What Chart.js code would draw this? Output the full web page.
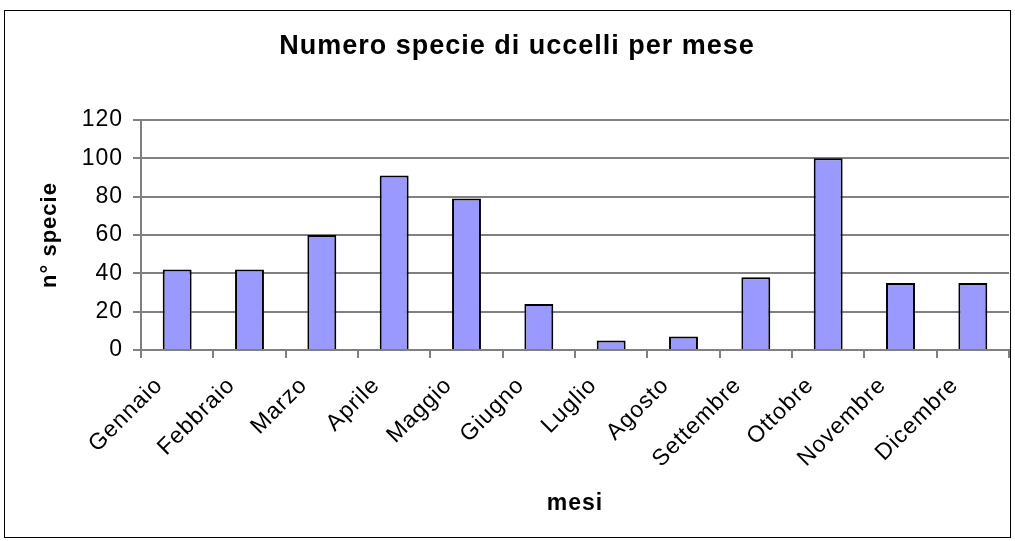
<!DOCTYPE html>
<html>
<head>
<meta charset="utf-8">
<script src="https://cdn.jsdelivr.net/npm/chart.js@4.4.0/dist/chart.umd.min.js"></script>
<style>
  html, body { margin: 0; padding: 0; background: #fff; }
  #wrap { position: relative; width: 1015px; height: 541px; }
  #frame { position: absolute; left: 4px; top: 10px; width: 1007px; height: 528px; border: 1px solid #000; box-sizing: border-box; pointer-events: none; }
</style>
</head>
<body>
<div id="wrap">
  <canvas id="chart" width="1015" height="541"></canvas>
  <div id="frame"></div>
</div>
<script>
// dati
const mesi = ['Gennaio', 'Febbraio', 'Marzo', 'Aprile', 'Maggio', 'Giugno',
              'Luglio', 'Agosto', 'Settembre', 'Ottobre', 'Novembre', 'Dicembre'];
const specie = [42, 42, 60, 91, 79, 24, 5, 7, 38, 100, 35, 35];
const yTicks = [0, 20, 40, 60, 80, 100, 120];

const font = 'Liberation Sans, Arial, sans-serif';

// testo leggermente spaziato come in Excel, titolo spostato a destra
const textTweak = {
    id: 'textTweak',
    beforeDraw(chart) {
        chart.ctx.letterSpacing = '1px';
    },
    afterLayout(chart) {
        const tb = chart.titleBlock;
        if (!tb || tb._tweaked) return;
        const draw = tb.draw.bind(tb);
        tb.draw = () => {
            const c = chart.ctx;
            c.save();
            c.translate(10, 0);
            draw();
            c.restore();
        };
        tb._tweaked = true;
    }
};

const ctx = document.getElementById('chart').getContext('2d');
new Chart(ctx, {
    type: 'bar',
    data: {
        labels: mesi,
        datasets: [{
            label: 'n° specie',
            data: specie,
            backgroundColor: '#9999ff',
            borderColor: '#000',
            borderWidth: 2,
            barPercentage: 0.4,
            categoryPercentage: 1
        }]
    },
    options: {
        responsive: false,
        animation: false,
        layout: { padding: { top: 10, left: 5, right: 6, bottom: 4 } },
        plugins: {
            legend: { display: false },
            tooltip: { enabled: false },
            title: {
                display: true,
                text: 'Numero specie di uccelli per mese',
                color: '#000',
                font: { family: font, size: 27, weight: 'bold', lineHeight: 1.2 },
                padding: { top: 20, bottom: 57.6 }
            }
        },
        scales: {
            x: {
                grid: { display: true, drawOnChartArea: false, color: '#808080', tickLength: 8, lineWidth: 2 },
                border: { color: '#808080', width: 2 },
                ticks: { color: '#000', font: { family: font, size: 23 }, minRotation: 45, maxRotation: 45, padding: 14, labelOffset: -18 },
                title: {
                    display: true, text: 'mesi', color: '#000',
                    font: { family: font, size: 23, weight: 'bold' },
                    padding: { top: 0, bottom: 20 }
                },
                afterFit: s => { s.height = 187; }
            },
            y: {
                min: 0, max: 120,
                afterBuildTicks: s => { s.ticks = yTicks.map(v => ({ value: v })); },
                grid: { color: '#808080', lineWidth: 2, tickLength: 8 },
                border: { color: '#808080', width: 2 },
                ticks: { color: '#000', font: { family: font, size: 23 }, padding: 10 },
                title: {
                    display: true, text: 'n° specie', color: '#000',
                    font: { family: font, size: 22, weight: 'bold' },
                    padding: { top: 32, bottom: 0 }
                },
                afterFit: s => { s.width = 136; }
            }
        }
    },
    plugins: [textTweak]
});
</script>
</body>
</html>
